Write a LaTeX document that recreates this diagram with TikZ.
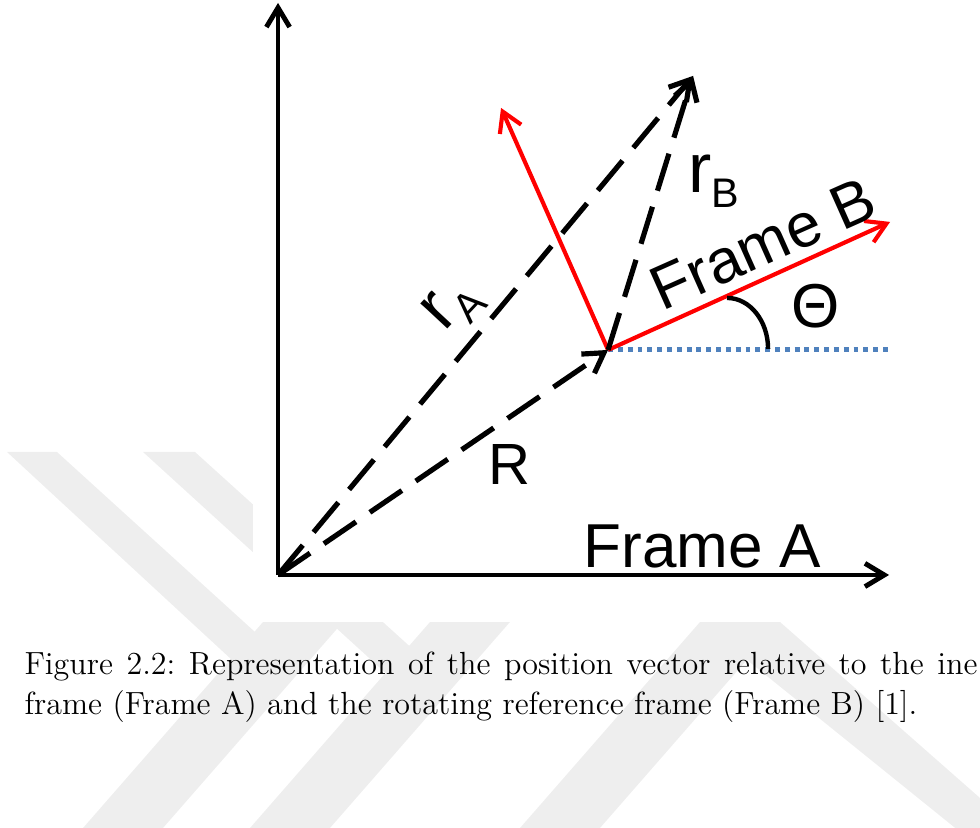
\documentclass[tikz,border=0pt]{standalone}
\usepackage{fontspec}
\newfontfamily\arialfont{Liberation Sans}
\usetikzlibrary{arrows.meta}
\definecolor{dotblue}{RGB}{79,129,189}
\definecolor{wmgray}{RGB}{238,238,238}
\newcommand\vecsub[1]{{\fontsize{27}{30}\selectfont r}\raisebox{-5.5pt}{\fontsize{16}{18}\selectfont #1}}
\tikzset{
  frameaxis/.style={line width=1.9pt, -{Straight Barb[length=7.5pt,width=9pt]}},
  posvec/.style={line width=2pt, dash pattern=on 15pt off 6.5pt, -{Straight Barb[length=7.5pt,width=9pt]}},
  rotaxis/.style={red, line width=1.6pt, -{Straight Barb[length=7.5pt,width=9pt]}},
  lbl/.style={font=\arialfont\fontsize{24}{27}\selectfont, inner sep=0pt},
  capline/.style={anchor=base west, inner sep=0pt, font=\fontsize{12.4}{15}\selectfont}
}
\begin{document}
\begin{tikzpicture}[scale=1.36]
    \useasboundingbox (0,0) rectangle (9.8,8.28);
    % filigrana di sfondo
    \fill[wmgray] (0.07,3.76) -- (0.57,3.76) -- (2.99,1.56) -- (2.72,1.31) -- cycle;
    \fill[wmgray] (1.43,3.76) -- (1.95,3.76) -- (4.37,1.57) -- (4.13,1.30) -- cycle;
    \fill[wmgray] (2.63,2.06) -- (3.43,2.06) -- (1.63,0) -- (0.83,0) -- cycle;
    \fill[wmgray] (4.30,2.06) -- (5.10,2.06) -- (3.30,0) -- (2.50,0) -- cycle;
    \fill[wmgray] (7.00,2.06) -- (7.80,2.06) -- (6.00,0) -- (5.20,0) -- cycle;
    \fill[wmgray] (7.00,2.06) -- (7.80,2.06) -- (9.80,0.30) -- (9.80,-0.20) -- cycle;
    \fill[white] (2.53,2.06) rectangle (9.8,8.28);
    % assi e vettori
    \coordinate (O) at (2.78,2.53);
    \coordinate (Ay) at (2.78,8.25);
    \coordinate (Ax) at (8.89,2.53);
    \coordinate (P) at (6.08,4.78);
    \coordinate (T) at (6.93,7.52);
    \coordinate (Bx) at (8.90,6.06);
    \coordinate (By) at (5.01,7.20);
    \coordinate (D) at (8.92,4.78);
    \draw[frameaxis] (O) -- (Ay);
    \draw[frameaxis] (O) -- (Ax);
    \draw[dotblue, line width=1.9pt, dash pattern=on 1.9pt off 1.9pt] (P) -- (D);
    \draw[rotaxis] (P) -- (Bx);
    \draw[rotaxis] (P) -- (By);
    \draw[posvec] (O) -- (P);
    \draw[posvec] (O) -- (T);
    \draw[posvec] (P) -- (T);
    \coordinate (th1) at (7.27,5.30);
    \draw[line width=1.7pt] (th1) arc[start angle=90, end angle=0, x radius=0.41, y radius=0.51] coordinate (th2);
    % etichette
    \node[lbl, anchor=base west] (fa) at (5.83,2.60) {Frame A};
    \node[lbl, rotate=24] (fb) at (7.63,5.84) {Frame B};
    \node[lbl, font=\arialfont\fontsize{22.5}{25}\selectfont, anchor=base west] (rr) at (4.88,3.43) {R};
    \node[lbl] (th) at (8.16,5.22) {Θ};
    \node[inner sep=0pt, anchor=base west, font=\arialfont] (rb) at (6.88,6.35) {\vecsub{B}};
    \node[inner sep=0pt, rotate=47, font=\arialfont] (ra) at (4.53,5.22) {\vecsub{A}};
    % didascalia
    \node[capline] (cap1) at (0.24,1.53) {\makebox[12.96cm][s]{Figure 2.2:\ Representation of the position vector relative to the ine}};
    \node[capline] (cap2) at (0.24,1.13) {frame (Frame A) and the rotating reference frame (Frame B) [1].};
\end{tikzpicture}
\end{document}
